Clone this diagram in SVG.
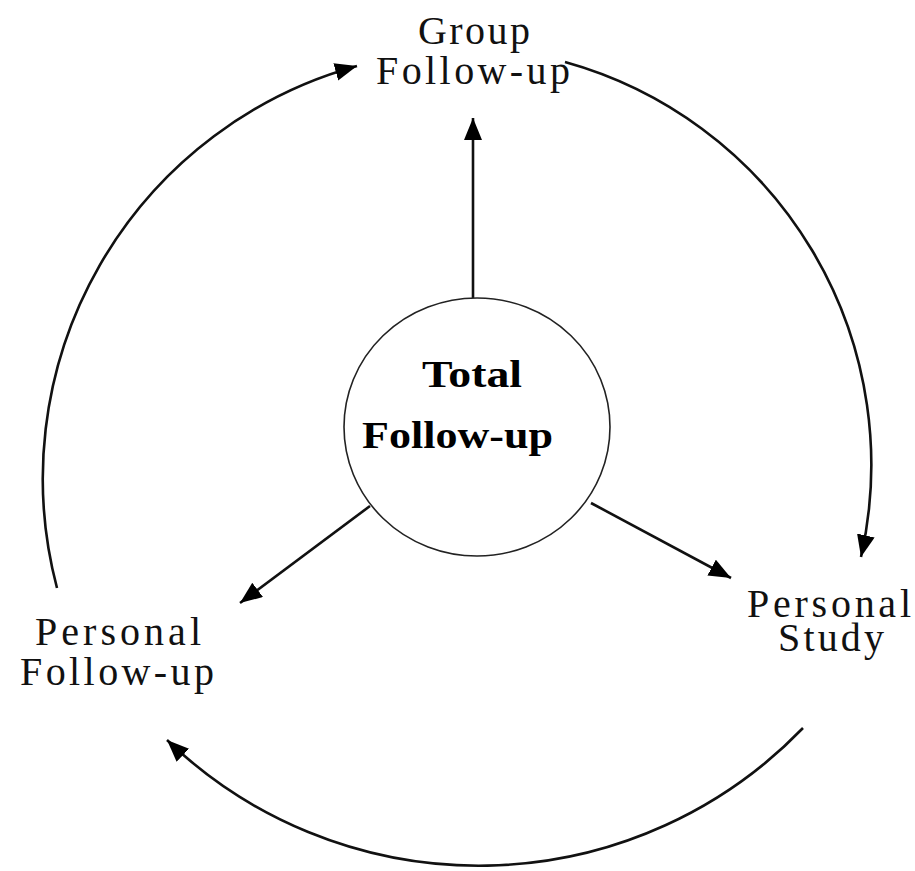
<svg xmlns="http://www.w3.org/2000/svg" width="915" height="871" viewBox="0 0 915 871">
  <style>
    .lbl { font-family: "Liberation Serif", "DejaVu Serif", serif; font-size: 40px; fill: #111; }
    .core { font-family: "Liberation Serif", "DejaVu Serif", serif; font-size: 38px; font-weight: bold; fill: #000; }
    .conn { fill: none; stroke: #111; stroke-width: 2.6; marker-end: url(#head); }
  </style>
  <defs>
    <marker id="head" markerUnits="userSpaceOnUse" markerWidth="24" markerHeight="20" refX="22" refY="9" orient="auto">
      <path d="M0,0 L22,9 L0,18 z" fill="#000"/>
    </marker>
  </defs>
  <rect width="915" height="871" fill="#fff"/>

  <g id="connectors">
    <!-- spokes from the centre -->
    <line class="conn" x1="473" y1="298" x2="473" y2="118"/>
    <line class="conn" x1="370" y1="506" x2="240" y2="603"/>
    <line class="conn" x1="591" y1="503" x2="731" y2="578"/>
    <!-- outer cycle -->
    <path class="conn" d="M57,588 A428,428 0 0 1 357,66"/>
    <path class="conn" d="M565,62 A418,418 0 0 1 861,557"/>
    <path class="conn" d="M803,728 A450,450 0 0 1 167,740"/>
  </g>

  <g id="total">
    <ellipse cx="477" cy="427" rx="133" ry="129" fill="#fff" stroke="#222" stroke-width="1.6"/>
    <text class="core" x="422" y="387" textLength="100" lengthAdjust="spacingAndGlyphs">Total</text>
    <text class="core" x="362" y="448" textLength="191" lengthAdjust="spacingAndGlyphs">Follow-up</text>
  </g>

  <g id="group">
    <text class="lbl" x="418" y="44" textLength="112" lengthAdjust="spacing">Group</text>
    <text class="lbl" x="376" y="84" textLength="194" lengthAdjust="spacing">Follow-up</text>
  </g>

  <g id="personal-followup">
    <text class="lbl" x="35" y="645" textLength="166" lengthAdjust="spacing">Personal</text>
    <text class="lbl" x="20" y="685" textLength="194" lengthAdjust="spacing">Follow-up</text>
  </g>

  <g id="personal-study">
    <text class="lbl" x="747" y="617" textLength="164" lengthAdjust="spacing">Personal</text>
    <text class="lbl" x="778" y="651" textLength="106" lengthAdjust="spacing">Study</text>
  </g>
</svg>
